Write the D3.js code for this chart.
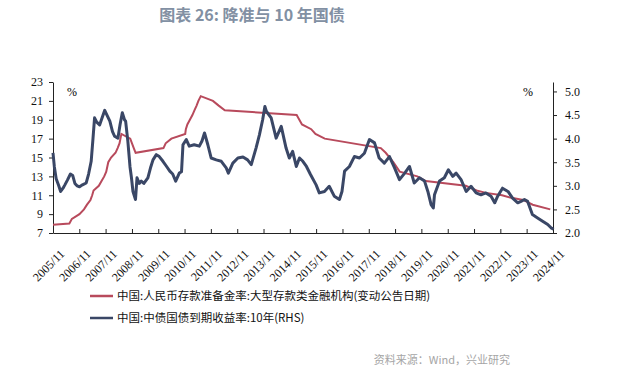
<!DOCTYPE html>
<html>
<head>
<meta charset="utf-8">
<script src="https://cdn.jsdelivr.net/npm/d3@7"></script>
<style>
  body { margin: 0; background: #fff; }
  svg { display: block; }
</style>
</head>
<body>
<div id="chart"></div>
<script>
// 存款准备金率（大型存款类金融机构），按变动公告日期
const rrrDates = ['2005-11-01', '2006-06-16', '2006-07-21', '2006-11-03', '2007-01-05', '2007-02-16',
  '2007-04-05', '2007-04-29', '2007-05-18', '2007-07-30', '2007-09-06', '2007-10-13', '2007-11-10',
  '2007-12-08', '2008-01-16', '2008-03-18', '2008-04-16', '2008-05-12', '2008-06-07', '2008-10-08',
  '2008-11-26', '2008-12-22', '2010-01-12', '2010-02-12', '2010-05-02', '2010-11-10', '2010-11-19',
  '2010-12-10', '2011-01-14', '2011-02-18', '2011-03-18', '2011-04-17', '2011-05-12', '2011-06-14',
  '2011-11-30', '2012-02-18', '2012-05-12', '2015-02-04', '2015-04-19', '2015-08-25', '2015-10-23',
  '2016-02-29', '2018-04-17', '2018-06-24', '2018-10-07', '2019-01-04', '2019-09-06', '2020-01-01',
  '2021-07-09', '2021-12-06', '2022-04-15', '2022-11-25', '2023-03-17', '2023-09-14', '2024-01-24',
  '2024-09-24'];
const rrrValues = [7.87, 8.0, 8.5, 9.0, 9.5, 10.0,
  10.5, 11.0, 11.5, 12.0, 12.5, 13.0, 13.5,
  14.5, 15.0, 15.5, 16.0, 16.5, 17.5, 17.0,
  16.0, 15.5, 16.0, 16.5, 17.0, 17.5, 18.0,
  18.5, 19.0, 19.5, 20.0, 20.5, 21.0, 21.5,
  21.0, 20.5, 20.0, 19.5, 18.5, 18.0, 17.5,
  17.0, 16.0, 15.5, 14.5, 13.5, 13.0, 12.5,
  12.0, 11.5, 11.25, 11.0, 10.75, 10.5, 10.0,
  9.5];

// 中债国债到期收益率:10年（右轴）
const bondDates = ['2005-11-01', '2005-11-20', '2005-12-15', '2006-01-20', '2006-02-15', '2006-03-20',
  '2006-04-15', '2006-05-20', '2006-07-01', '2006-08-01', '2006-09-01', '2006-10-01', '2006-11-05',
  '2006-12-15', '2007-02-05', '2007-03-10', '2007-04-15', '2007-05-10', '2007-06-01', '2007-07-01',
  '2007-08-10', '2007-09-15', '2007-10-20', '2007-11-20', '2007-12-30', '2008-02-05', '2008-03-05',
  '2008-04-20', '2008-05-20', '2008-06-20', '2008-07-20', '2008-08-05', '2008-09-05', '2008-10-05',
  '2008-10-25', '2008-11-15', '2008-12-20', '2009-01-10', '2009-02-10', '2009-03-10', '2009-04-15',
  '2009-06-10', '2009-07-20', '2009-08-20', '2009-10-05', '2009-11-15', '2010-01-05', '2010-02-20',
  '2010-04-10', '2010-05-20', '2010-07-01', '2010-08-20', '2010-09-20', '2010-10-10', '2010-11-25',
  '2011-01-05', '2011-03-15', '2011-05-25', '2011-07-01', '2011-08-05', '2011-09-20', '2011-11-05',
  '2012-01-15', '2012-03-25', '2012-06-01', '2012-07-01', '2012-09-01', '2012-11-10', '2013-01-20',
  '2013-03-25', '2013-05-15', '2013-07-20', '2013-09-05', '2013-10-20', '2013-11-20', '2013-12-10',
  '2014-02-15', '2014-04-25', '2014-07-05', '2014-09-10', '2014-10-25', '2014-12-10', '2015-01-30',
  '2015-03-15', '2015-05-01', '2015-06-20', '2015-08-15', '2015-11-01', '2015-12-15', '2016-02-25',
  '2016-05-01', '2016-07-10', '2016-09-20', '2016-10-25', '2016-11-30', '2017-02-05', '2017-04-15',
  '2017-06-25', '2017-09-01', '2017-11-10', '2018-01-20', '2018-03-25', '2018-06-05', '2018-08-15',
  '2018-10-25', '2019-01-01', '2019-03-15', '2019-05-20', '2019-07-25', '2019-10-05', '2019-12-15',
  '2020-01-30', '2020-03-15', '2020-04-15', '2020-05-01', '2020-07-10', '2020-09-15', '2020-11-10',
  '2021-01-10', '2021-02-25', '2021-05-05', '2021-07-15', '2021-09-20', '2021-11-30', '2022-02-05',
  '2022-04-15', '2022-06-25', '2022-08-15', '2022-09-25', '2022-12-01', '2023-02-15', '2023-04-20',
  '2023-07-01', '2023-08-15', '2023-10-01', '2023-11-15', '2024-01-20', '2024-04-01', '2024-06-10',
  '2024-08-20', '2024-10-05', '2024-11-10'];
const bondValues = [3.70, 3.40, 3.15, 3.00, 2.88, 2.95,
  3.02, 3.12, 3.25, 3.22, 3.05, 3.00, 2.98,
  3.02, 3.06, 3.25, 3.52, 4.00, 4.44, 4.35,
  4.29, 4.45, 4.60, 4.50, 4.37, 4.15, 4.05,
  4.01, 4.30, 4.55, 4.40, 4.37, 3.94, 3.40,
  3.17, 2.88, 2.71, 3.17, 3.05, 3.10, 3.05,
  3.17, 3.40, 3.55, 3.66, 3.62, 3.52, 3.42,
  3.31, 3.25, 3.10, 3.27, 3.30, 3.87, 3.98,
  3.84, 3.87, 3.84, 3.95, 4.12, 3.87, 3.59,
  3.55, 3.52, 3.38, 3.27, 3.48, 3.59, 3.61,
  3.55, 3.45, 3.80, 4.08, 4.40, 4.68, 4.58,
  4.44, 4.01, 4.26, 3.80, 3.59, 3.73, 3.41,
  3.59, 3.52, 3.41, 3.24, 3.02, 2.85, 2.88,
  2.99, 2.78, 2.71, 2.88, 3.31, 3.41, 3.62,
  3.59, 3.69, 3.98, 3.91, 3.59, 3.48, 3.62,
  3.38, 3.13, 3.27, 3.41, 3.06, 3.17, 3.10,
  2.88, 2.60, 2.53, 2.81, 3.10, 3.17, 3.34,
  3.20, 3.27, 3.13, 2.88, 2.99, 2.85, 2.81,
  2.85, 2.78, 2.64, 2.78, 2.95, 2.88, 2.74,
  2.64, 2.67, 2.71, 2.67, 2.39, 2.32, 2.25,
  2.18, 2.11, 2.08];

const leftTicks = [7, 9, 11, 13, 15, 17, 19, 21, 23];
const rightTicks = [2.0, 2.5, 3.0, 3.5, 4.0, 4.5, 5.0];
const xTickYears = d3.range(2005, 2025);

const legendLabels = ['中国:人民币存款准备金率:大型存款类金融机构(变动公告日期)', '中国:中债国债到期收益率:10年(RHS)'];
const colors = ['#b84a5c', '#3a4766'];

const parseDate = d3.timeParse('%Y-%m-%d');
const rrr = rrrDates.map((d, i) => ({ date: parseDate(d), value: rrrValues[i] }));
const bond = bondDates.map((d, i) => ({ date: parseDate(d), value: bondValues[i] }));

const svg_width = 619, svg_height = 371;
const margin = { top: 82, right: 66, bottom: 138, left: 53 };
const width = svg_width - margin.left - margin.right,
  height = svg_height - margin.top - margin.bottom;

const svg = d3.select('#chart')
  .append('svg')
  .attr('width', svg_width)
  .attr('height', svg_height);

svg.append('text')
  .attr('x', 252)
  .attr('y', 21)
  .attr('text-anchor', 'middle')
  .style('font-family', '"Noto Sans CJK SC", "Noto Sans", sans-serif')
  .style('font-size', '16px')
  .style('font-weight', 'bold')
  .style('fill', '#8290a3')
  .text('图表 26: 降准与 10 年国债');

const g = svg.append('g')
  .attr('transform', 'translate(' + margin.left + ',' + margin.top + ')');

const x = d3.scaleTime()
  .domain([new Date(2005, 10, 1), new Date(2024, 10, 1)])
  .range([0, width]);
const yLeft = d3.scaleLinear().domain([7, 23]).range([height, 0]);
const yRight = d3.scaleLinear().domain([2, 5.2]).range([height, 0]);

const tickFont = '"Liberation Serif", "Times New Roman", serif';

// 左轴
const leftAxis = g.append('g')
  .call(d3.axisLeft(yLeft).tickValues(leftTicks).tickSize(4).tickPadding(6).tickSizeOuter(0));
// 右轴
const rightAxis = g.append('g')
  .attr('transform', 'translate(' + width + ',0)')
  .call(d3.axisRight(yRight).tickValues(rightTicks).tickSize(4).tickPadding(8).tickSizeOuter(0)
    .tickFormat(d3.format('.1f')));
// 底轴
const bottomAxis = g.append('g')
  .attr('transform', 'translate(0,' + height + ')')
  .call(d3.axisBottom(x)
    .tickValues(xTickYears.map(yr => new Date(yr, 10, 1)))
    .tickFormat(d3.timeFormat('%Y/%m'))
    .tickSize(-4)
    .tickSizeOuter(0));
bottomAxis.selectAll('text')
  .attr('text-anchor', 'end')
  .attr('transform', 'translate(7,17) rotate(-45)')
  .attr('dx', '0')
  .attr('dy', '0.3em');

[leftAxis, rightAxis, bottomAxis].forEach(a => {
  a.selectAll('text')
    .style('font-family', tickFont)
    .style('font-size', '12px')
    .style('fill', '#111');
  a.selectAll('line, path').attr('stroke', '#222');
});

g.append('text')
  .attr('x', 14).attr('y', 14)
  .style('font-family', tickFont)
  .style('font-size', '12px')
  .text('%');
g.append('text')
  .attr('x', width - 30).attr('y', 14)
  .style('font-family', tickFont)
  .style('font-size', '12px')
  .text('%');

const lineLeft = d3.line().x(d => x(d.date)).y(d => yLeft(d.value));
const lineRight = d3.line().x(d => x(d.date)).y(d => yRight(d.value));

g.append('path')
  .datum(rrr)
  .attr('d', lineLeft)
  .attr('fill', 'none')
  .attr('stroke', colors[0])
  .attr('stroke-width', 2);

g.append('path')
  .datum(bond)
  .attr('d', lineRight)
  .attr('fill', 'none')
  .attr('stroke', colors[1])
  .attr('stroke-width', 3)
  .attr('stroke-linejoin', 'round');

// 图例
const legend = svg.append('g');
legendLabels.forEach((label, i) => {
  const ly = 296 + i * 22;
  legend.append('line')
    .attr('x1', 90).attr('x2', 113)
    .attr('y1', ly).attr('y2', ly)
    .attr('stroke', colors[i])
    .attr('stroke-width', 2.5);
  legend.append('text')
    .attr('x', 117).attr('y', ly + 4)
    .style('font-family', '"Noto Sans CJK SC", sans-serif')
    .style('font-size', '11.5px')
    .style('fill', '#111')
    .text(label);
});

svg.append('text')
  .attr('x', 510)
  .attr('y', 364)
  .attr('text-anchor', 'end')
  .style('font-family', '"Noto Sans CJK SC", sans-serif')
  .style('font-size', '11px')
  .style('fill', '#a5a5a5')
  .text('资料来源：Wind，兴业研究');
</script>
</body>
</html>
